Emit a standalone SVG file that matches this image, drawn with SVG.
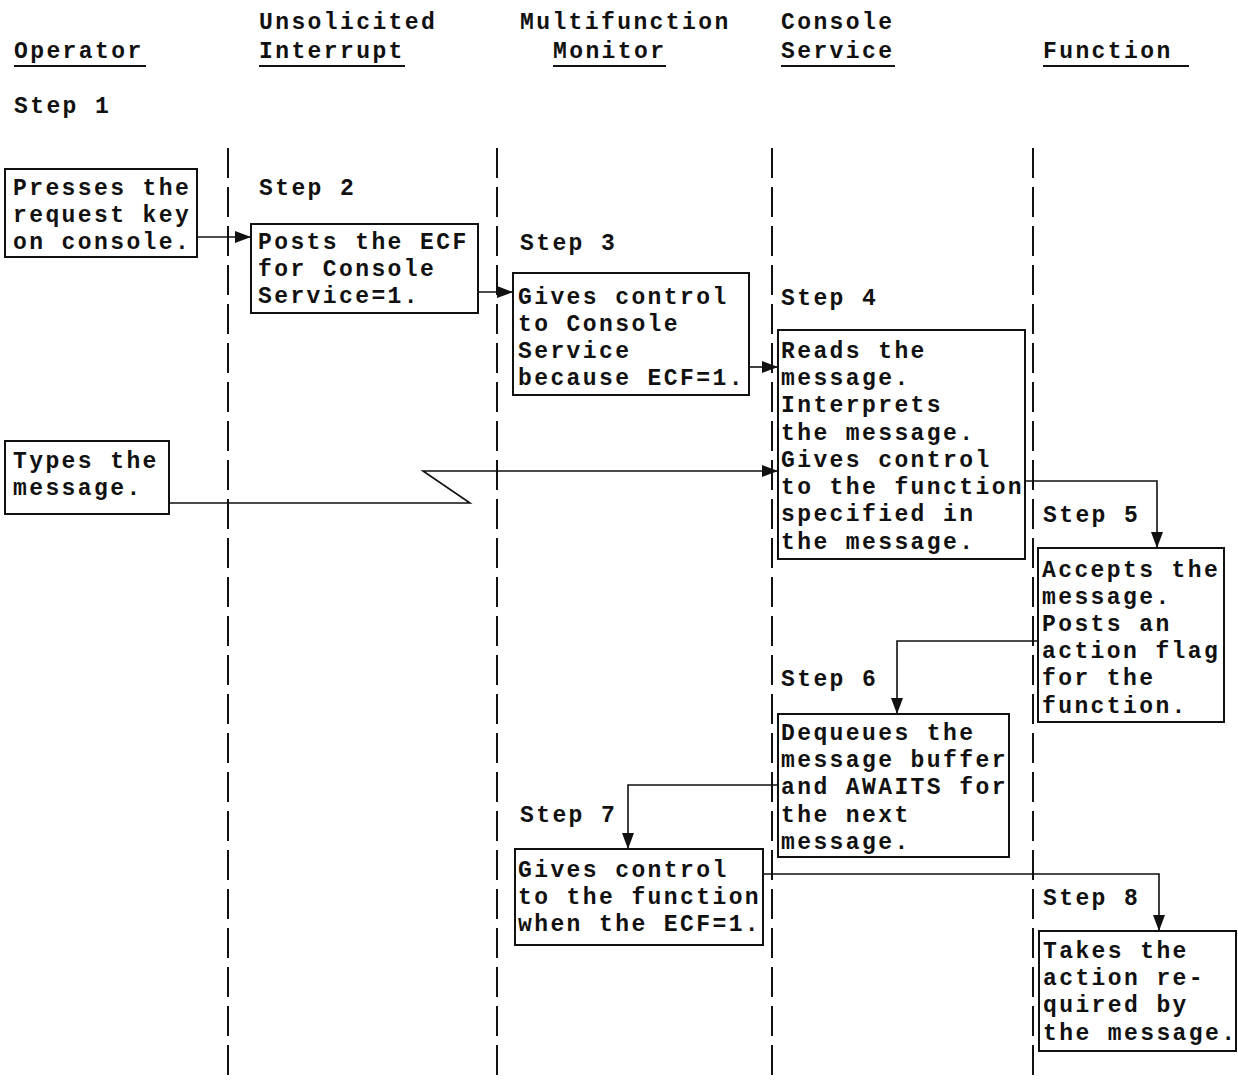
<svg xmlns="http://www.w3.org/2000/svg" width="1238" height="1082" viewBox="0 0 1238 1082">
  <style>
    .t { font-family: "Liberation Mono", "Courier New", monospace; font-size: 23px; letter-spacing: 2.4px; fill: #111; font-weight: bold; }
    .box { fill: #fff; stroke: #111; stroke-width: 2; }
    .lane { stroke: #111; stroke-width: 2; stroke-dasharray: 30 9; fill: none; }
    .ul { stroke: #111; stroke-width: 2; }
    .conn { stroke: #111; stroke-width: 1.6; fill: none; }
  </style>
  <defs>
    <marker id="arrow" viewBox="0 0 16 12" refX="16" refY="6" markerWidth="16" markerHeight="12" markerUnits="userSpaceOnUse" orient="auto">
      <path d="M0,0 L16,6 L0,12 Z" fill="#111"/>
    </marker>
  </defs>
  <rect width="1238" height="1082" fill="#fff"/>

  <!-- column headings -->
  <g id="headings">
    <text class="t" x="14" y="58">Operator</text>
    <line class="ul" x1="14" y1="66" x2="146" y2="66"/>
    <text class="t" x="259" y="29">Unsolicited</text>
    <text class="t" x="259" y="58">Interrupt</text>
    <line class="ul" x1="259" y1="66" x2="405" y2="66"/>
    <text class="t" x="520" y="29">Multifunction</text>
    <text class="t" x="553" y="58">Monitor</text>
    <line class="ul" x1="553" y1="66" x2="666" y2="66"/>
    <text class="t" x="781" y="29">Console</text>
    <text class="t" x="781" y="58">Service</text>
    <line class="ul" x1="781" y1="66" x2="895" y2="66"/>
    <text class="t" x="1043" y="58">Function</text>
    <line class="ul" x1="1043" y1="66" x2="1189" y2="66"/>
  </g>

  <!-- swimlane separators -->
  <g id="lanes">
    <line class="lane" x1="228" y1="148" x2="228" y2="1082"/>
    <line class="lane" x1="497" y1="148" x2="497" y2="1082"/>
    <line class="lane" x1="772" y1="148" x2="772" y2="1082"/>
    <line class="lane" x1="1033" y1="148" x2="1033" y2="1082"/>
  </g>

  <!-- step labels -->
  <g id="steps">
    <text class="t" x="14" y="113">Step 1</text>
    <text class="t" x="259" y="195">Step 2</text>
    <text class="t" x="520" y="250">Step 3</text>
    <text class="t" x="781" y="305">Step 4</text>
    <text class="t" x="1043" y="522">Step 5</text>
    <text class="t" x="781" y="686">Step 6</text>
    <text class="t" x="520" y="822">Step 7</text>
    <text class="t" x="1043" y="905">Step 8</text>
  </g>

  <!-- connectors -->
  <g id="connectors">
    <line class="conn" x1="197" y1="237" x2="251" y2="237" marker-end="url(#arrow)"/>
    <line class="conn" x1="478" y1="292" x2="513" y2="292" marker-end="url(#arrow)"/>
    <line class="conn" x1="749" y1="367" x2="778" y2="367" marker-end="url(#arrow)"/>
    <polyline class="conn" points="169,503 470,503 423,471 778,471" marker-end="url(#arrow)"/>
    <polyline class="conn" points="1025,481 1157,481 1157,548" marker-end="url(#arrow)"/>
    <polyline class="conn" points="1038,641 897,641 897,714" marker-end="url(#arrow)"/>
    <polyline class="conn" points="778,785 628,785 628,849" marker-end="url(#arrow)"/>
    <polyline class="conn" points="763,874 1159,874 1159,931" marker-end="url(#arrow)"/>
  </g>

  <!-- Step 1: operator presses the request key -->
  <g id="press-key">
    <rect class="box" x="5" y="169" width="192" height="88"/>
    <text class="t" x="13" y="195">Presses the</text>
    <text class="t" x="13" y="222">request key</text>
    <text class="t" x="13" y="249">on console.</text>
  </g>

  <!-- Step 2: unsolicited interrupt posts the ECF -->
  <g id="post-ecf">
    <rect class="box" x="251" y="224" width="227" height="89"/>
    <text class="t" x="258" y="249">Posts the ECF</text>
    <text class="t" x="258" y="276">for Console</text>
    <text class="t" x="258" y="303">Service=1.</text>
  </g>

  <!-- Step 3: monitor dispatches Console Service -->
  <g id="dispatch-console">
    <rect class="box" x="513" y="273" width="236" height="122"/>
    <text class="t" x="518" y="304">Gives control</text>
    <text class="t" x="518" y="331">to Console</text>
    <text class="t" x="518" y="358">Service</text>
    <text class="t" x="518" y="385">because ECF=1.</text>
  </g>

  <!-- operator types the message -->
  <g id="type-message">
    <rect class="box" x="5" y="441" width="164" height="73"/>
    <text class="t" x="13" y="468">Types the</text>
    <text class="t" x="13" y="495">message.</text>
  </g>

  <!-- Step 4: Console Service reads and routes the message -->
  <g id="read-message">
    <rect class="box" x="778" y="330" width="247" height="229"/>
    <text class="t" x="781" y="358">Reads the</text>
    <text class="t" x="781" y="385">message.</text>
    <text class="t" x="781" y="412">Interprets</text>
    <text class="t" x="781" y="440">the message.</text>
    <text class="t" x="781" y="467">Gives control</text>
    <text class="t" x="781" y="494">to the function</text>
    <text class="t" x="781" y="521">specified in</text>
    <text class="t" x="781" y="549">the message.</text>
  </g>

  <!-- Step 5: function accepts the message -->
  <g id="accept-message">
    <rect class="box" x="1038" y="548" width="186" height="174"/>
    <text class="t" x="1042" y="577">Accepts the</text>
    <text class="t" x="1042" y="604">message.</text>
    <text class="t" x="1042" y="631">Posts an</text>
    <text class="t" x="1042" y="658">action flag</text>
    <text class="t" x="1042" y="685">for the</text>
    <text class="t" x="1042" y="713">function.</text>
  </g>

  <!-- Step 6: Console Service dequeues the buffer -->
  <g id="dequeue">
    <rect class="box" x="778" y="714" width="231" height="143"/>
    <text class="t" x="781" y="740">Dequeues the</text>
    <text class="t" x="781" y="767">message buffer</text>
    <text class="t" x="781" y="794">and AWAITS for</text>
    <text class="t" x="781" y="822">the next</text>
    <text class="t" x="781" y="849">message.</text>
  </g>

  <!-- Step 7: monitor dispatches the function -->
  <g id="dispatch-function">
    <rect class="box" x="515" y="849" width="248" height="96"/>
    <text class="t" x="518" y="877">Gives control</text>
    <text class="t" x="518" y="904">to the function</text>
    <text class="t" x="518" y="931">when the ECF=1.</text>
  </g>

  <!-- Step 8: function takes the action -->
  <g id="take-action">
    <rect class="box" x="1039" y="931" width="197" height="120"/>
    <text class="t" x="1043" y="958">Takes the</text>
    <text class="t" x="1043" y="985">action re-</text>
    <text class="t" x="1043" y="1012">quired by</text>
    <text class="t" x="1043" y="1040">the message.</text>
  </g>
</svg>
